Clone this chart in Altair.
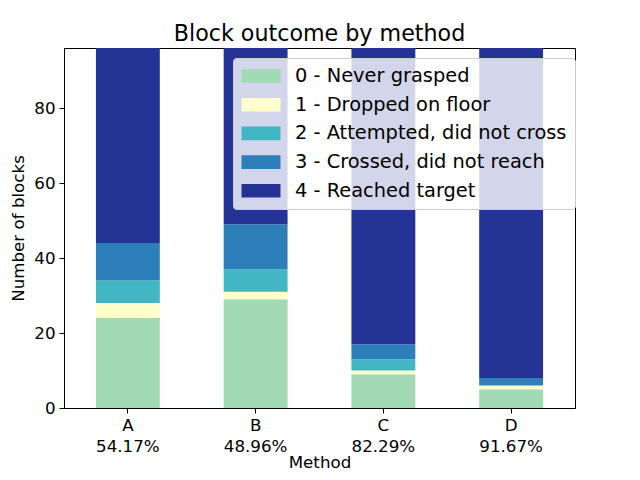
import altair as alt
import pandas as pd

methods = ["A", "B", "C", "D"]
outcomes = ["0 - Never grasped", "1 - Dropped on floor", "2 - Attempted, did not cross",
            "3 - Crossed, did not reach", "4 - Reached target"]
colors = ["#a1dab4", "#ffffcc", "#41b6c4", "#2c7fb8", "#253494"]
never_grasped = [24, 29, 9, 5]
dropped = [4, 2, 1, 1]
attempted = [6, 6, 3, 0]
crossed = [10, 12, 4, 2]
reached = [52, 47, 79, 88]
pct_labels = ["54.17%", "48.96%", "82.29%", "91.67%"]

series = [never_grasped, dropped, attempted, crossed, reached]
rows = []
for oi, (name, vals) in enumerate(zip(outcomes, series)):
    for mi, m in enumerate(methods):
        rows.append({"method": m + "\n" + pct_labels[mi], "outcome": name,
                     "idx": oi, "count": vals[mi]})
df = pd.DataFrame(rows)
xorder = [m + "\n" + p for m, p in zip(methods, pct_labels)]

FONT = "DejaVu Sans"

chart = alt.Chart(df).mark_bar(strokeWidth=0).encode(
    x=alt.X("method:N", sort=xorder,
            scale=alt.Scale(paddingInner=0.5, paddingOuter=0.25),
            axis=alt.Axis(title="Method", labelAngle=0, labelExpr="split(datum.label, '\\n')",
                          labelLineHeight=21, labelFontSize=16.7, titleFontSize=16.7,
                          labelColor="black", titleColor="black", domainColor="black",
                          tickColor="black", tickSize=5, labelPadding=4, titlePadding=0,
                          titleFontWeight="normal", labelFont=FONT, titleFont=FONT,
                          labelBaseline="top")),
    y=alt.Y("count:Q", stack="zero",
            scale=alt.Scale(domain=[0, 96], nice=False),
            axis=alt.Axis(title="Number of blocks", values=[0, 20, 40, 60, 80], grid=False,
                          labelFontSize=16.7, titleFontSize=16.7, labelColor="black",
                          titleColor="black", domainColor="black", tickColor="black",
                          tickSize=5, labelPadding=4, titlePadding=6,
                          titleFontWeight="normal", labelFont=FONT, titleFont=FONT)),
    color=alt.Color("outcome:N", sort=outcomes,
                    scale=alt.Scale(domain=outcomes, range=colors),
                    legend=alt.Legend(title=None, orient="none", legendX=169, legendY=10,
                                      symbolType="M-2,-0.7H2V0.7H-2Z", symbolSize=380,
                                      symbolOffset=10,
                                      symbolStrokeWidth=0, labelFontSize=19.4, labelFont=FONT,
                                      labelColor="black", labelOffset=24, rowPadding=8.7,
                                      padding=8, fillColor="rgba(255,255,255,0.8)",
                                      strokeColor="#cccccc", cornerRadius=3, labelLimit=400)),
    order=alt.Order("idx:Q", sort="ascending"),
).properties(
    width=511, height=360,
    title=alt.TitleParams("Block outcome by method", fontSize=22.2, font=FONT,
                          fontWeight="normal", color="black", offset=3),
    autosize=alt.AutoSizeParams(type="none"),
    padding={"left": 56, "top": 40, "right": 57, "bottom": 64},
).configure_view(stroke="black", strokeWidth=1)

chart.save("out.html", embed_options={"renderer": "svg", "actions": False})
